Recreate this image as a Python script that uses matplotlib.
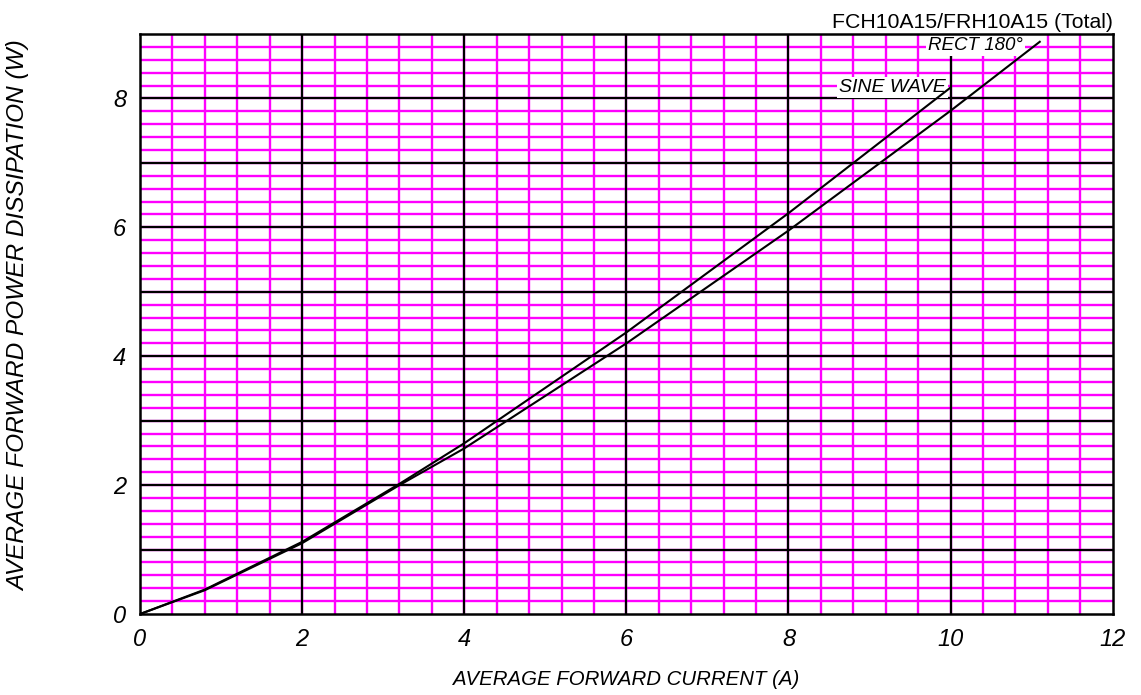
import numpy as np
import matplotlib.pyplot as plt

plt.rcParams['font.family'] = ['Liberation Sans', 'DejaVu Sans']

# curve data
sine_i = [0, 0.8, 2.0, 2.4, 3.2, 4.0, 6.0, 8.0, 10.0]
sine_p = [0, 0.38, 1.12, 1.42, 2.02, 2.65, 4.37, 6.22, 8.17]
rect_i = [0, 0.8, 2.0, 2.4, 3.2, 4.0, 6.0, 8.0, 10.0, 11.1]
rect_p = [0, 0.37, 1.10, 1.40, 2.00, 2.57, 4.20, 5.95, 7.81, 8.88]

x_ticks = [0, 2, 4, 6, 8, 10, 12]
y_ticks = [0, 2, 4, 6, 8]

fig = plt.figure(figsize=(11.41, 6.95), dpi=100)
ax = fig.add_axes([0.1227, 0.1165, 0.8525, 0.8345])
ax.set_xlim(0, 12)
ax.set_ylim(0, 9)

# paper grid: magenta fine lines, black coarse lines
for x in np.arange(0.4, 12, 0.4):
    ax.axvline(x, color='#ff00ff', lw=1.7, zorder=1)
for y in np.arange(0.2, 9, 0.2):
    ax.axhline(y, color='#ff00ff', lw=1.7, zorder=1)
for x in range(2, 12, 2):
    ax.axvline(x, color='black', lw=1.6, zorder=2)
for y in range(1, 9):
    ax.axhline(y, color='black', lw=1.6, zorder=2)

ax.plot(sine_i, sine_p, color='black', lw=1.5, zorder=4)
ax.plot(rect_i, rect_p, color='black', lw=1.5, zorder=4)

box = dict(facecolor='white', edgecolor='none', pad=1.5)
ax.text(10.89, 8.82, 'RECT 180°', ha='right', va='center', fontsize=13.5,
        style='italic', bbox=box, zorder=3)
ax.text(9.94, 8.17, 'SINE WAVE', ha='right', va='center', fontsize=14,
        style='italic', bbox=box, zorder=3)

ax.set_xticks(x_ticks)
ax.set_yticks(y_ticks)
ax.set_xticklabels([str(v) for v in x_ticks], fontsize=17, style='italic')
ax.set_yticklabels([str(v) for v in y_ticks], fontsize=17, style='italic')
ax.tick_params(length=0, pad=10)

for s in ax.spines.values():
    s.set_linewidth(1.8)
    s.set_zorder(5)

ax.set_xlabel('AVERAGE FORWARD CURRENT (A)', fontsize=14.7, style='italic',
              labelpad=14)
ax.set_ylabel('AVERAGE FORWARD POWER DISSIPATION (W)', fontsize=17.6,
              style='italic')
ax.yaxis.set_label_coords(-0.113, 0.515)
ax.set_title('FCH10A15/FRH10A15 (Total)', loc='right', fontsize=15.3, pad=4)

fig.savefig('out.png')
